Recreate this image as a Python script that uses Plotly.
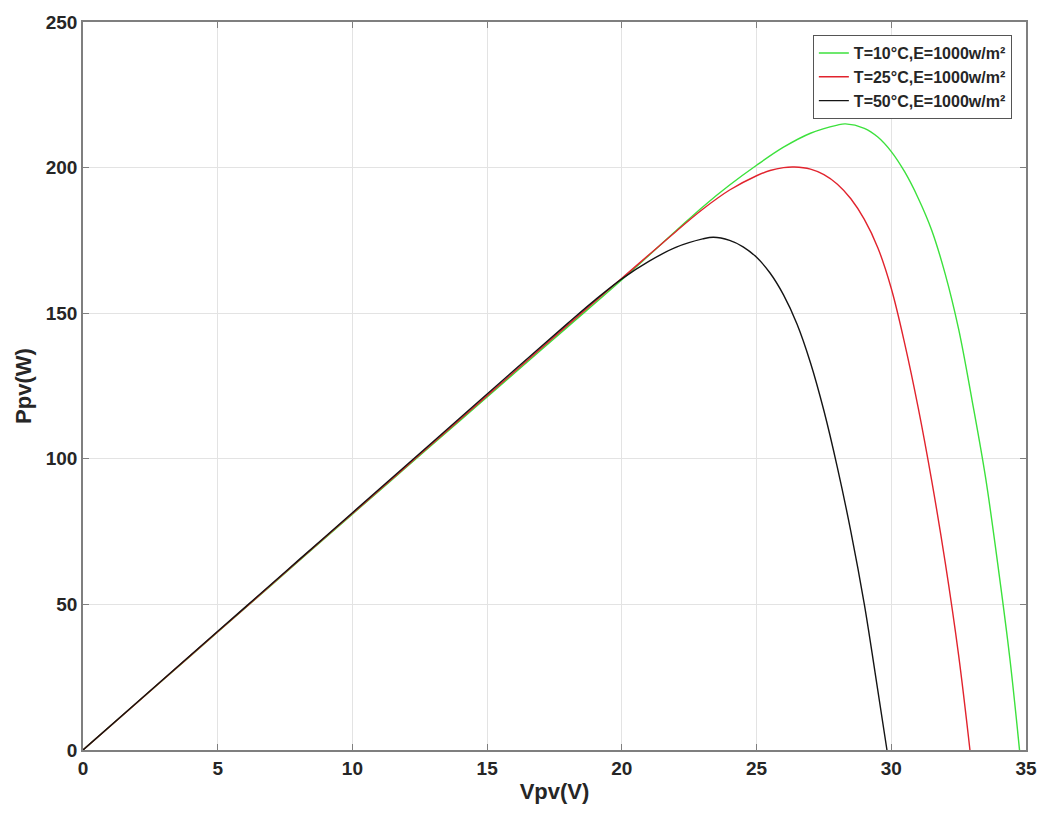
import plotly.graph_objects as go

# ---- data ----
v_10 = [0, 2, 4, 6, 8, 10, 12, 14, 16, 18, 20, 22, 23, 24, 25, 26, 27, 28, 28.3,
        29, 29.5, 30, 30.5, 31, 31.5, 32, 32.5, 33, 33.5, 34, 34.4, 34.76]
p_10 = [0, 16.2, 32.4, 48.6, 64.8, 81.0, 97.1, 113.2, 129.3, 145.4, 161.5, 178.2,
        186.5, 194.0, 200.8, 207.0, 211.8, 214.6, 215.0, 213.5, 210.5, 205.5, 198.5,
        189.5, 178.5, 163.5, 144.5, 120.0, 93.5, 60.5, 31.5, 0]

v_25 = [0, 2, 4, 6, 8, 10, 12, 14, 16, 18, 20, 22, 23, 24, 25, 25.5, 26, 26.4, 27,
        27.5, 28, 28.5, 29, 29.5, 30, 30.5, 31, 31.5, 32, 32.5, 32.92]
p_25 = [0, 16.25, 32.5, 48.7, 65.0, 81.2, 97.4, 113.6, 129.8, 146.0, 162.0, 178.0,
        185.7, 192.3, 197.2, 199.0, 200.0, 200.2, 199.5, 197.6, 194.3, 189.3, 182.2,
        172.5, 158.5, 139.5, 117.5, 92.5, 64.5, 32.5, 0]

v_50 = [0, 2, 4, 6, 8, 10, 12, 14, 16, 18, 19, 20, 21, 22, 23, 23.4, 24,
        24.5, 25, 25.5, 26, 26.5, 27, 27.5, 28, 28.5, 29, 29.4, 29.84]
p_50 = [0, 16.3, 32.6, 48.9, 65.2, 81.5, 97.8, 114.1, 130.4, 146.6, 154.5, 161.8,
        167.8, 172.6, 175.5, 176.1, 175.0, 172.8, 169.2, 163.8, 156.3, 146.3, 133.0,
        116.5, 97.0, 75.0, 50.0, 26.5, 0]

labels = ["T=10°C,E=1000w/m²", "T=25°C,E=1000w/m²", "T=50°C,E=1000w/m²"]
colors = ["rgb(60,225,60)", "rgb(225,35,45)", "rgb(20,20,20)"]

FONT = "Liberation Sans, Arial, sans-serif"
AX = "#7f7f7f"
TXT = "#262626"

fig = go.Figure()
for v, p, name, c in zip([v_10, v_25, v_50], [p_10, p_25, p_50], labels, colors):
    fig.add_trace(go.Scatter(x=v, y=p, mode="lines", name=name,
                             line=dict(color=c, width=1.4, shape="spline", smoothing=1.0)))

axis_common = dict(
    showline=True, linecolor=AX, linewidth=1.5, mirror="ticks",
    ticks="inside", ticklen=6, tickcolor=AX, tickwidth=1,
    showgrid=True, gridcolor="#e3e3e3", gridwidth=1,
    zeroline=False,
    tickfont=dict(family=FONT, size=19, color=TXT, weight="bold"),
)

fig.update_layout(
    width=1049, height=816,
    margin=dict(l=83, r=17, t=14, b=66),
    paper_bgcolor="white", plot_bgcolor="white",
    font=dict(family=FONT, color=TXT),
    xaxis=dict(range=[0, 35], dtick=5, tick0=0,
               title=dict(text="Vpv(V)", font=dict(family=FONT, size=22, color=TXT, weight="bold"),
                          standoff=6),
               **axis_common),
    yaxis=dict(range=[0, 250], dtick=50, tick0=0,
               title=dict(text="Ppv(W)", font=dict(family=FONT, size=22, color=TXT, weight="bold"),
                          standoff=8),
               **axis_common),
    legend=dict(x=0.985, y=0.982, xanchor="right", yanchor="top",
                bgcolor="white", bordercolor="#555555", borderwidth=1,
                font=dict(family=FONT, size=16, color=TXT, weight="bold"),
                tracegroupgap=0),
    showlegend=True,
)

fig.write_html("out.html")
